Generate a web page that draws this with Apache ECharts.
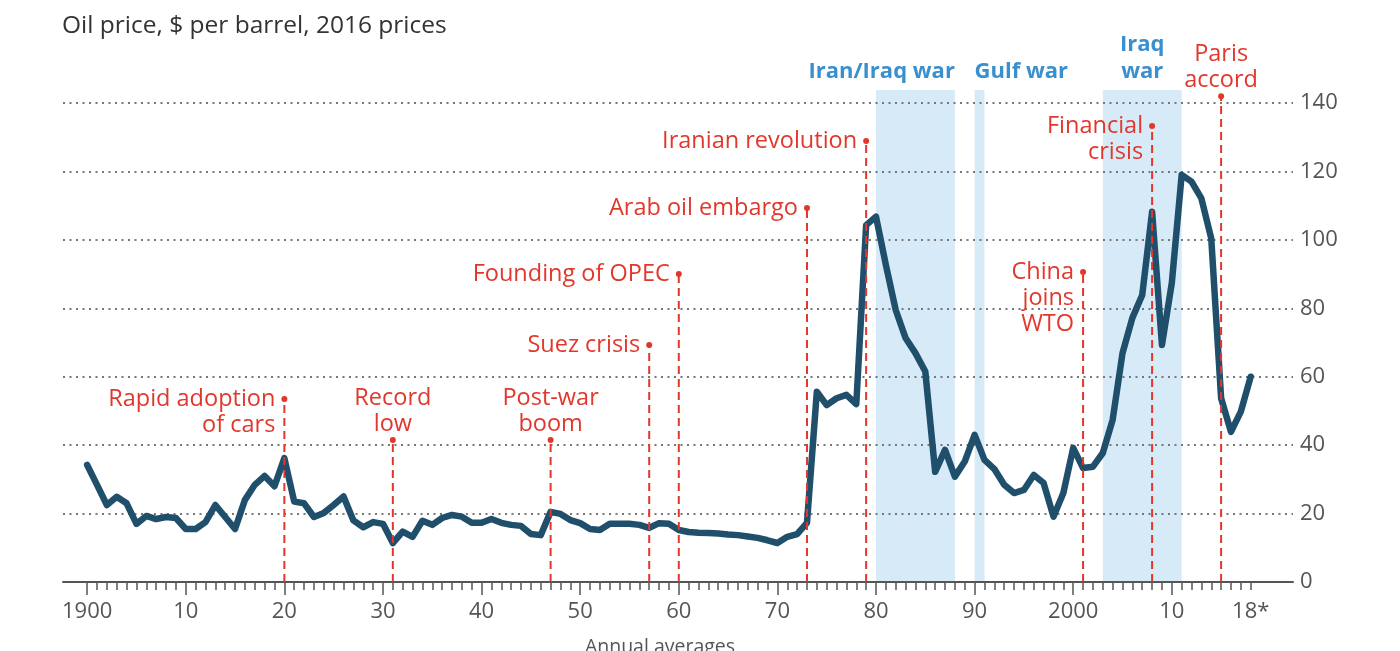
<!DOCTYPE html>
<html><head><meta charset="utf-8">
<script src="https://cdn.jsdelivr.net/npm/echarts@6/dist/echarts.min.js"></script>
<style>html,body{margin:0;padding:0;background:#fff}#c{width:1400px;height:651px}</style>
</head><body><div id="c"></div>
<script>
// ---------- DATA ----------
const years = [1900,1901,1902,1903,1904,1905,1906,1907,1908,1909,
  1910,1911,1912,1913,1914,1915,1916,1917,1918,1919,
  1920,1921,1922,1923,1924,1925,1926,1927,1928,1929,
  1930,1931,1932,1933,1934,1935,1936,1937,1938,1939,
  1940,1941,1942,1943,1944,1945,1946,1947,1948,1949,
  1950,1951,1952,1953,1954,1955,1956,1957,1958,1959,
  1960,1961,1962,1963,1964,1965,1966,1967,1968,1969,
  1970,1971,1972,1973,1974,1975,1976,1977,1978,1979,
  1980,1981,1982,1983,1984,1985,1986,1987,1988,1989,
  1990,1991,1992,1993,1994,1995,1996,1997,1998,1999,
  2000,2001,2002,2003,2004,2005,2006,2007,2008,2009,
  2010,2011,2012,2013,2014,2015,2016,2017,2018];
const prices = [34.2,28.4,22.5,24.9,23,17,19.3,18.4,19,18.7,
  15.5,15.5,17.5,22.5,19,15.5,24,28.4,31,28,
  36.2,23.5,23,19,20.2,22.5,25,18,16,17.5,
  17,11.4,14.7,13.2,17.9,16.7,18.7,19.6,19.1,17.3,
  17.3,18.4,17.3,16.7,16.4,14,13.7,20.5,19.9,18.1,
  17.2,15.5,15.2,17,17,17,16.7,15.8,17.2,17,
  15.2,14.6,14.4,14.3,14.2,13.9,13.7,13.3,12.9,12.2,
  11.4,13.2,14,17.3,55.6,51.7,53.7,54.7,52,104.3,
  106.8,92.7,79.5,71.3,66.9,61.5,32.2,38.6,30.8,35.2,
  43,35.7,33,28.4,26,26.9,31.3,28.9,19.1,26,
  39.2,33.3,33.7,37.7,47.4,66.9,77.2,83.9,108.2,69.3,
  87.4,119,117,112.1,100.4,53.7,43.9,49.8,60];

const xTickValues = [1900,1910,1920,1930,1940,1950,1960,1970,1980,1990,2000,2010,2018];
const xTickLabels = ['1900','10','20','30','40','50','60','70','80','90','2000','10','18*'];
const yTickValues = [0,20,40,60,80,100,120,140];

const eventYears  = [1920,1931,1947,1957,1960,1973,1979,2001,2008,2015];
const eventTops   = [53.5,41.5,41.5,69.3,90,109.3,128.9,90.6,133.3,142];
const eventLabels = ['Rapid adoption\nof cars','Record\nlow','Post-war\nboom','Suez crisis',
  'Founding of OPEC','Arab oil embargo','Iranian revolution','China\njoins\nWTO','Financial\ncrisis','Paris\naccord'];

const bandStarts = [1980,1990,2003];
const bandEnds   = [1988,1991,2011];
const bandLabels = ['Iran/Iraq war','Gulf war','Iraq\nwar'];

const titleText = 'Oil price, $ per barrel, 2016 prices';
const footText = 'Annual averages';

// ---------- STYLE / LAYOUT ----------
const FONT = '"Open Sans", Lato, sans-serif';
const RED = '#e2372c';
const BLUE_TXT = '#3a90cf';
const BAND = '#d6eaf8';
const LINE = '#1f4f6b';
const GREY = '#555';
const eventPlacement = ['left','above','above','left','left','left','left','left','left','above'];
const bandAnchor = ['end','start','center'];
const BAND_TOP = 143.8;
const X_MIN = 1897.55, X_MAX = 2022.29;

const minorTicks = years.slice();
const majorTicks = xTickValues.filter(v => v % 10 === 0);

const chart = echarts.init(document.getElementById('c'), null, {renderer:'canvas'});

function renderBand(params, api) {
  const i = params.dataIndex;
  const a = api.coord([api.value(0), 0]);
  const b = api.coord([api.value(1), BAND_TOP]);
  const anc = bandAnchor[i];
  let tx, align;
  if (anc === 'end') { tx = b[0]; align = 'right'; }
  else if (anc === 'start') { tx = a[0]; align = 'left'; }
  else { tx = (a[0] + b[0]) / 2; align = 'center'; }
  return { type:'group', children:[
    { type:'rect', shape:{x:a[0], y:b[1], width:b[0]-a[0], height:a[1]-b[1]}, style:{fill:BAND} },
    { type:'text', style:{ text:bandLabels[i], x:tx, y:b[1]-5, align:align, verticalAlign:'bottom',
      fill:BLUE_TXT, fontSize:22, fontFamily:FONT, fontWeight:'bold', lineHeight:27 } }
  ]};
}

function renderEvent(params, api) {
  const i = params.dataIndex;
  const x = api.value(0), top = api.value(1);
  const p0 = api.coord([x, 0]);
  const p1 = api.coord([x, top]);
  let tx, ty, align, va;
  if (eventPlacement[i] === 'left') { tx = p1[0] - 9; ty = p1[1] - 13; align = 'right'; va = 'top'; }
  else { tx = p1[0]; ty = p1[1] - 3; align = 'center'; va = 'bottom'; }
  return { type:'group', children:[
    { type:'line', shape:{x1:p0[0], y1:p0[1], x2:p1[0], y2:p1[1]}, style:{stroke:RED, lineWidth:2, lineDash:[8,5]} },
    { type:'circle', shape:{cx:p1[0], cy:p1[1], r:3}, style:{fill:RED} },
    { type:'text', style:{ text:eventLabels[i], x:tx, y:ty, align:align, verticalAlign:va,
      fill:RED, fontSize:23.5, fontFamily:FONT, lineHeight:26 } }
  ]};
}

chart.setOption({
  animation:false,
  backgroundColor:'#fff',
  textStyle:{fontFamily:FONT},
  title:[
    {text:titleText, left:62, top:14, padding:0, textStyle:{fontSize:24.5, fontWeight:'normal', color:'#333', fontFamily:FONT}},
    {text:footText, left:660, textAlign:'center', top:637, padding:0, textStyle:{fontSize:19.5, fontWeight:'normal', color:GREY, fontFamily:FONT}}
  ],
  grid:{left:63, right:107, top:103, bottom:69},
  xAxis:[
    { type:'value', min:X_MIN, max:X_MAX, position:'bottom',
      axisLine:{show:true, lineStyle:{color:GREY, width:2}},
      axisTick:{show:true, customValues:minorTicks, length:8, lineStyle:{color:GREY, width:1.5}},
      axisLabel:{show:true, customValues:xTickValues, margin:19, fontSize:22, color:GREY, fontFamily:FONT,
        formatter:(v)=>{ const k = xTickValues.indexOf(Math.round(v)); return k>=0 ? xTickLabels[k] : ''; }},
      splitLine:{show:false} },
    { type:'value', min:X_MIN, max:X_MAX, position:'bottom', gridIndex:0,
      axisLine:{show:false},
      axisTick:{show:true, customValues:majorTicks, length:13, lineStyle:{color:GREY, width:1.5}},
      axisLabel:{show:false}, splitLine:{show:false} }
  ],
  yAxis:{ type:'value', min:0, max:140, interval:20, position:'right',
    axisLine:{show:false}, axisTick:{show:false},
    axisLabel:{margin:7, fontSize:22, color:GREY, fontFamily:FONT, customValues:yTickValues},
    splitLine:{show:true, lineStyle:{color:'#777', width:2, type:[2,4.5]}} },
  series:[
    { type:'custom', z:-1, renderItem:renderBand, silent:true,
      data: bandStarts.map((s,i)=>[s, bandEnds[i]]), encode:{x:[0,1]} },
    { type:'line', data: years.map((y,i)=>[y, prices[i]]), showSymbol:false, z:3,
      lineStyle:{color:LINE, width:6.5, join:'round', cap:'round'}, itemStyle:{color:LINE} },
    { type:'custom', z:4, renderItem:renderEvent, silent:true,
      data: eventYears.map((y,i)=>[y, eventTops[i]]), encode:{x:0, y:1} }
  ]
});
</script>
</body></html>
